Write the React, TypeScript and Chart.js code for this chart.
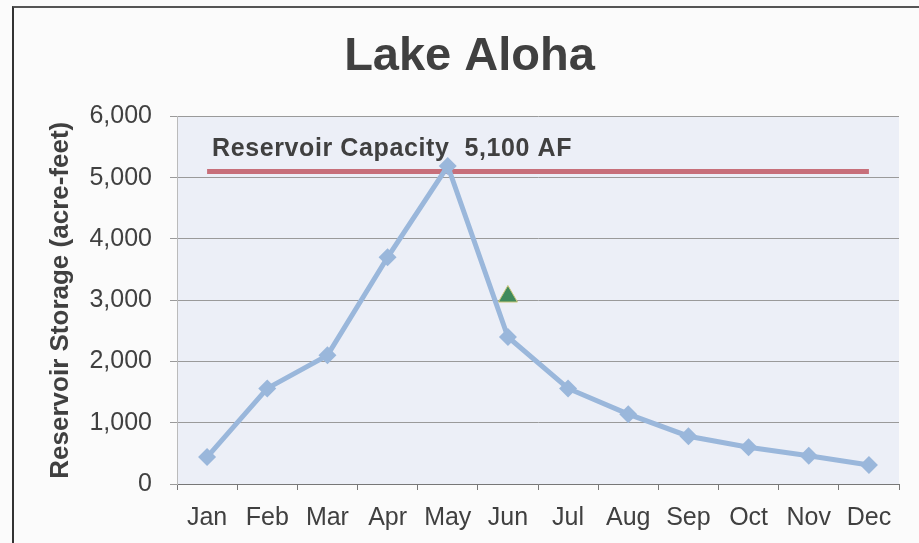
import React, { useEffect, useRef } from "react";
import { Chart, registerables } from "chart.js";

Chart.register(...registerables);

const months = ["Jan", "Feb", "Mar", "Apr", "May", "Jun", "Jul", "Aug", "Sep", "Oct", "Nov", "Dec"];
const storage = [440, 1560, 2100, 3700, 5190, 2400, 1560, 1140, 780, 600, 460, 310];
const observed = [null, null, null, null, null, 3060, null, null, null, null, null, null];
const capacity = [5100, 5100, 5100, 5100, 5100, 5100, 5100, 5100, 5100, 5100, 5100, 5100];
const capacityLabel = "Reservoir Capacity  5,100 AF";
const yTicks = [0, 1000, 2000, 3000, 4000, 5000, 6000];

const FONT = "'Liberation Sans', Arial, sans-serif";
const TEXT = "#404040";

const plotPlugin = {
  id: "plotDecor",
  beforeDraw(chart: any) {
    const { ctx, chartArea: a } = chart;
    ctx.save();
    ctx.fillStyle = "#eceff7";
    ctx.fillRect(a.left, a.top, a.right - a.left, a.bottom - a.top);
    ctx.restore();
  },
  beforeDatasetsDraw(chart: any) {
    const { ctx } = chart;
    const xs = chart.scales.x;
    const ys = chart.scales.y;
    ctx.save();
    ctx.font = `bold 25px ${FONT}`;
    try { (ctx as any).letterSpacing = "0.6px"; } catch (e) {}
    ctx.fillStyle = TEXT;
    ctx.textAlign = "left";
    ctx.textBaseline = "alphabetic";
    ctx.fillText(capacityLabel, xs.getPixelForValue(0) + 5, ys.getPixelForValue(capacity[0]) - 16);
    ctx.restore();
  },
};

export default function App() {
  const ref = useRef<HTMLCanvasElement | null>(null);

  useEffect(() => {
    if (!ref.current) return;
    const chart = new Chart(ref.current, {
      type: "line",
      data: {
        labels: months,
        datasets: [
          {
            label: "Observed",
            data: observed as any,
            showLine: false,
            pointStyle: "triangle",
            pointRadius: 11,
            backgroundColor: "#3f8a5c",
            borderColor: "#c9c77a",
            borderWidth: 1,
            order: 0,
          },
          {
            label: "Storage",
            data: storage,
            borderColor: "#9ab7db",
            backgroundColor: "#9ab7db",
            borderWidth: 5,
            pointStyle: "rectRot",
            pointRadius: 9,
            pointBorderWidth: 0,
            tension: 0,
            order: 1,
          },
          {
            label: "Capacity",
            data: capacity,
            borderColor: "#c76f7a",
            borderWidth: 5,
            pointRadius: 0,
            order: 2,
          },
        ],
      },
      options: {
        animation: false,
        responsive: false,
        maintainAspectRatio: false,
        layout: { padding: { left: 40, right: 20, top: 0, bottom: 0 } },
        plugins: {
          legend: { display: false },
          tooltip: { enabled: false },
          title: {
            display: true,
            text: "Lake Aloha",
            color: TEXT,
            font: { family: FONT, size: 47, weight: "bold" },
            padding: { top: 29, bottom: 31 },
          },
        },
        scales: {
          x: {
            offset: true,
            grid: {
              display: true,
              drawOnChartArea: false,
              drawTicks: true,
              tickLength: 6,
              offset: true,
              color: "#777777",
            },
            border: { color: "#777777", width: 1 },
            ticks: {
              color: TEXT,
              font: { family: FONT, size: 25 },
              padding: 13,
              maxRotation: 0,
              autoSkip: false,
            },
            afterFit(scale: any) {
              scale.height = 59;
            },
          },
          y: {
            min: 0,
            max: 6000,
            afterBuildTicks(scale: any) {
              scale.ticks = yTicks.map((v) => ({ value: v }));
            },
            grid: {
              color: "#9a9a9a",
              tickLength: 7,
              lineWidth: 1,
            },
            border: { color: "#bbbbbb", width: 1 },
            ticks: {
              color: TEXT,
              font: { family: FONT, size: 25 },
              padding: 18,
              callback: (v: any) => Number(v).toLocaleString("en-US"),
            },
            title: {
              display: true,
              text: "Reservoir Storage (acre-feet)",
              color: TEXT,
              font: { family: FONT, size: 26, weight: "bold" },
              padding: { top: 5, bottom: 0 },
            },
            afterFit(scale: any) {
              scale.width = 137;
            },
          },
        },
      },
      plugins: [plotPlugin],
    });
    return () => chart.destroy();
  }, []);

  return (
    <div style={{ position: "fixed", left: 0, top: 0, width: 919, height: 543, background: "#fbfbfb", overflow: "hidden" }}>
      <canvas ref={ref} width={919} height={543} style={{ position: "absolute", left: 0, top: 0 }} />
      <div
        style={{
          position: "absolute",
          left: 12,
          top: 6,
          width: 919,
          height: 560,
          borderLeft: "2px solid #333",
          borderTop: "2px solid #555",
          pointerEvents: "none",
        }}
      />
    </div>
  );
}
